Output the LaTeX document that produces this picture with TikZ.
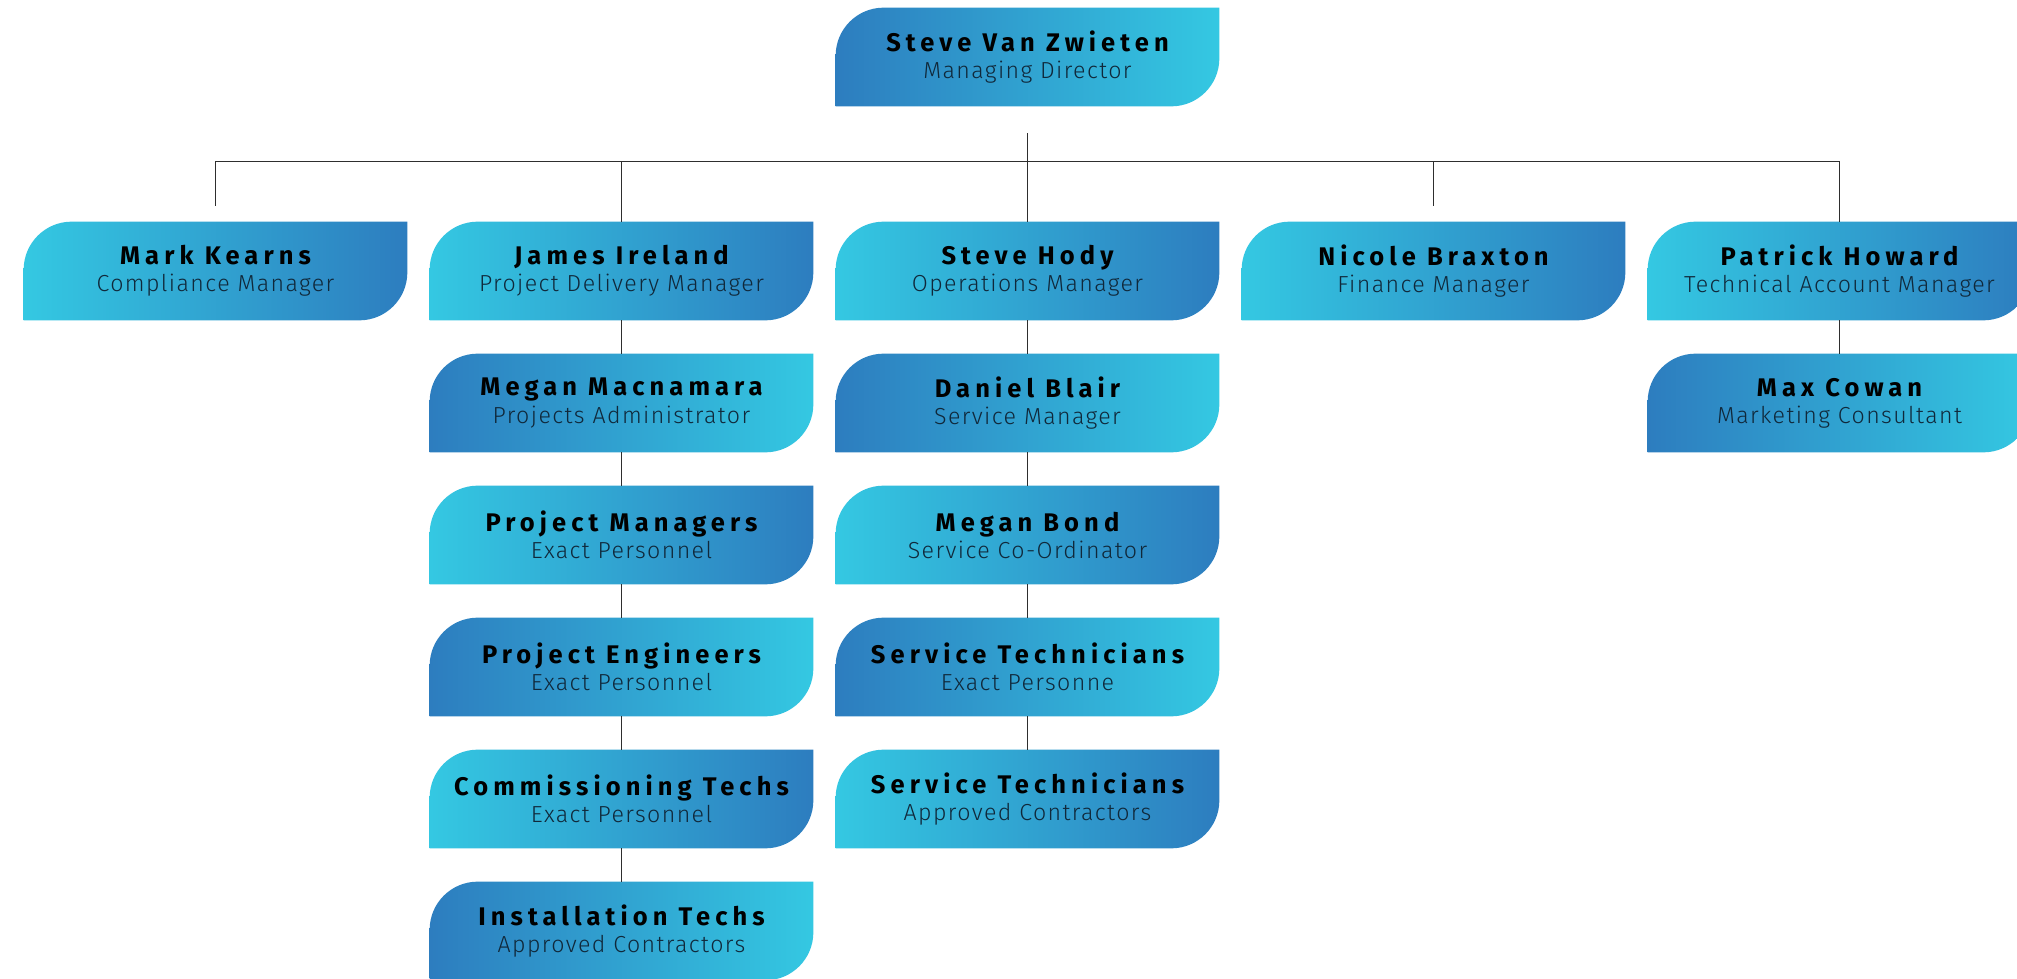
\documentclass[tikz,border=0pt]{standalone}
\usepackage{fontspec}
\usepackage{xcolor}
\usetikzlibrary{backgrounds}
\setmainfont{Fira Sans}
\newfontfamily\namefont{Fira Sans Bold}[LetterSpace=20]
\newfontfamily\rolefont{Fira Sans Light}[LetterSpace=6]

\definecolor{deepblue}{HTML}{2D7DBF}
\definecolor{skyblue}{HTML}{34C8E2}
\definecolor{roleink}{HTML}{10283A}
\definecolor{wire}{HTML}{2E2E2E}

\newcommand{\who}[2]{{\namefont\fontsize{14.5}{15.4}\selectfont #1}\\{\rolefont\color{roleink}\fontsize{13.2}{15.4}\selectfont #2}}

\tikzset{
    card/.style={minimum width=7.66cm, minimum height=1.96cm, inner sep=0pt, align=center,
        font=\fontsize{13.2}{15.4}\selectfont},
    darkleft/.style={left color=deepblue, right color=skyblue},
    lightleft/.style={left color=skyblue, right color=deepblue},
    link/.style={draw=wire, line width=0.85pt}
}

\begin{document}
\begin{tikzpicture}
    \useasboundingbox (0,0) rectangle (40.34,-19.58);

    % Define nodes
    \node[card] (md) at (20.55,-1.14) {\who{Steve Van Zwieten}{Managing Director}};

    \node[card] (mk) at (4.31,-5.42) {\who{Mark Kearns}{Compliance Manager}};
    \node[card] (ji) at (12.43,-5.42) {\who{James Ireland}{Project Delivery Manager}};
    \node[card] (sh) at (20.55,-5.42) {\who{Steve Hody}{Operations Manager}};
    \node[card] (nb) at (28.67,-5.42) {\who{Nicole Braxton}{Finance Manager}};
    \node[card] (ph) at (36.79,-5.42) {\who{Patrick Howard}{Technical Account Manager}};

    \node[card] (mm) at (12.43,-8.06) {\who{Megan Macnamara}{Projects Administrator}};
    \node[card] (pm) at (12.43,-10.70) {\who{Project Managers}{Exact Personnel}};
    \node[card] (pe) at (12.43,-13.34) {\who{Project Engineers}{Exact Personnel}};
    \node[card] (ct) at (12.43,-15.98) {\who{Commissioning Techs}{Exact Personnel}};
    \node[card] (it) at (12.43,-18.62) {\who{Installation Techs}{Approved Contractors}};

    \node[card] (db) at (20.55,-8.06) {\who{Daniel Blair}{Service Manager}};
    \node[card] (mb) at (20.55,-10.70) {\who{Megan Bond}{Service Co-Ordinator}};
    \node[card] (stx) at (20.55,-13.34) {\who{Service Technicians}{Exact Personne}};
    \node[card] (stc) at (20.55,-15.98) {\who{Service Technicians}{Approved Contractors}};

    \node[card] (mx) at (36.79,-8.06) {\who{Max Cowan}{Marketing Consultant}};

    % Card backgrounds
    \begin{scope}[on background layer]
        \foreach \n in {md, mm, pe, it, db, stx, mx}
            \shade[darkleft] ([yshift=-0.96cm]\n.north west) arc[start angle=180, end angle=90, radius=0.96cm]
                -- (\n.north east) -- ([yshift=0.96cm]\n.south east) arc[start angle=0, end angle=-90, radius=0.96cm]
                -- (\n.south west) -- cycle;
        \foreach \n in {mk, ji, sh, nb, ph, pm, ct, mb, stc}
            \shade[lightleft] ([yshift=-0.96cm]\n.north west) arc[start angle=180, end angle=90, radius=0.96cm]
                -- (\n.north east) -- ([yshift=0.96cm]\n.south east) arc[start angle=0, end angle=-90, radius=0.96cm]
                -- (\n.south west) -- cycle;
    \end{scope}

    % Draw lines
    \coordinate (bus) at ([yshift=-1.1cm]md.south);
    \draw[link] ([yshift=-0.54cm]md.south) -- (sh.north);
    \draw[link] (mk.north |- bus) -- (ph.north |- bus);
    \draw[link] (mk.north |- bus) -- ([yshift=0.32cm]mk.north);
    \draw[link] (nb.north |- bus) -- ([yshift=0.32cm]nb.north);
    \draw[link] (ji.north |- bus) -- (ji.north);
    \draw[link] (ph.north |- bus) -- (ph.north);

    \draw[link] (ji) -- (mm);
    \draw[link] (mm) -- (pm);
    \draw[link] (pm) -- (pe);
    \draw[link] (pe) -- (ct);
    \draw[link] (ct) -- (it);
    \draw[link] (sh) -- (db);
    \draw[link] (db) -- (mb);
    \draw[link] (mb) -- (stx);
    \draw[link] (stx) -- (stc);
    \draw[link] (ph) -- (mx);
\end{tikzpicture}
\end{document}
